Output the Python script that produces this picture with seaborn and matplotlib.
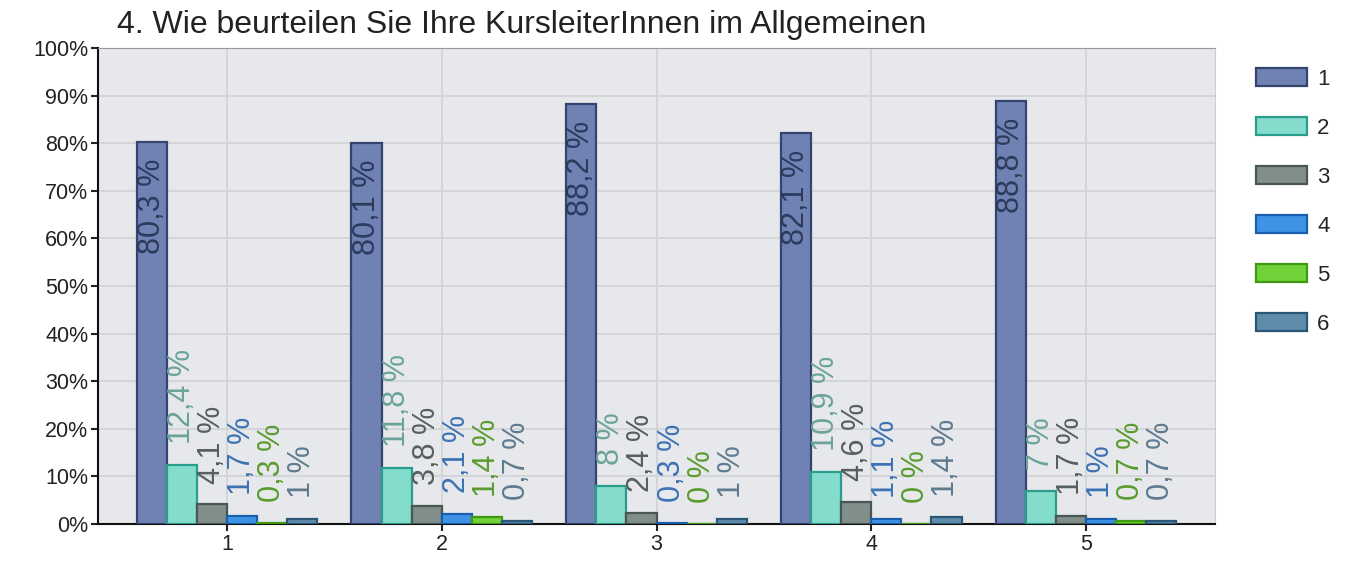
import matplotlib
matplotlib.use("Agg")
import matplotlib.pyplot as plt
import seaborn as sns
import pandas as pd
from matplotlib.patches import Patch

groups = ["1", "2", "3", "4", "5"]
series = ["1", "2", "3", "4", "5", "6"]
s1 = [80.3, 80.1, 88.2, 82.1, 88.8]
s2 = [12.4, 11.8, 8.0, 10.9, 7.0]
s3 = [4.1, 3.8, 2.4, 4.6, 1.7]
s4 = [1.7, 2.1, 0.3, 1.1, 1.0]
s5 = [0.3, 1.4, 0.0, 0.0, 0.7]
s6 = [1.0, 0.7, 1.0, 1.4, 0.7]
values = [s1, s2, s3, s4, s5, s6]
title = "4. Wie beurteilen Sie Ihre KursleiterInnen im Allgemeinen"

fill_colors = ["#7082b3", "#84dccd", "#808f8b", "#3f93e4", "#72d23a", "#5f8cab"]
edge_colors = ["#34446f", "#2a9d8c", "#4a5652", "#1a5fae", "#3f9a12", "#2c5676"]
text_colors = ["#2c3a5c", "#6aa39a", "#575f5d", "#3d72b4", "#5a9c30", "#5f7a8e"]

rows = []
for s, vals in zip(series, values):
    for g, v in zip(groups, vals):
        rows.append({"group": g, "series": s, "value": v})
df = pd.DataFrame(rows)

sns.set_style("white")
plt.rcParams["font.family"] = ["Liberation Sans", "DejaVu Sans"]

fig = plt.figure(figsize=(13.45, 5.75), dpi=100)
ax = fig.add_axes([98 / 1345, 1 - 524 / 575, (1215 - 98) / 1345, (524 - 48) / 575])
ax.set_facecolor("#e6e8eb")

sns.barplot(data=df, x="group", y="value", hue="series", order=groups,
            hue_order=series, palette=fill_colors, saturation=1, width=0.84,
            gap=0, ax=ax, legend=False, zorder=3)

for i, cont in enumerate(ax.containers):
    for bar, v in zip(cont, values[i]):
        bar.set_edgecolor(edge_colors[i])
        bar.set_linewidth(1.6)
        bar.set_zorder(3)
        xc = bar.get_x() + bar.get_width() / 2
        lab = (f"{v:.1f}".replace(".", ",") if v % 1 else f"{int(v)}") + " %"
        if i == 0:
            ax.annotate(lab, (xc, v), xytext=(0, -12), textcoords="offset points",
                        rotation=90, ha="center", va="top", fontsize=22,
                        color=text_colors[i], zorder=4)
        else:
            ax.annotate(lab, (xc, v), xytext=(0, 15), textcoords="offset points",
                        rotation=90, ha="center", va="bottom", fontsize=22,
                        color=text_colors[i], zorder=4)

ax.set_xlim(-0.6, 4.6)
ax.set_ylim(0, 100)
ax.set_yticks(range(0, 101, 10))
ax.set_yticklabels([f"{t}%" for t in range(0, 101, 10)])
ax.set_xlabel("")
ax.set_ylabel("")
ax.grid(True, color="#d2d4d6", linewidth=1.3, zorder=0)
ax.set_axisbelow(True)
ax.tick_params(axis="both", labelsize=15.5, colors="#222222", length=5, width=1.5,
               left=True, bottom=True, direction="out", pad=2)
for side in ["left", "bottom"]:
    ax.spines[side].set_color("#111111")
    ax.spines[side].set_linewidth(1.5)
ax.spines["top"].set_color("#999999")
ax.spines["right"].set_color("#cccccc")
ax.set_title(title, loc="left", fontsize=23, color="#222222", pad=11, x=0.017)

handles = [Patch(facecolor=f, edgecolor=e, linewidth=1.6, label=s)
           for f, e, s in zip(fill_colors, edge_colors, series)]
fig.legend(handles=handles, loc="upper left", bbox_to_anchor=(1236 / 1345, 1 - 48 / 575),
           frameon=False, fontsize=16, handlelength=2.3, handleheight=0.9,
           labelspacing=1.22, handletextpad=0.45)

fig.savefig("out.png", dpi=100)
